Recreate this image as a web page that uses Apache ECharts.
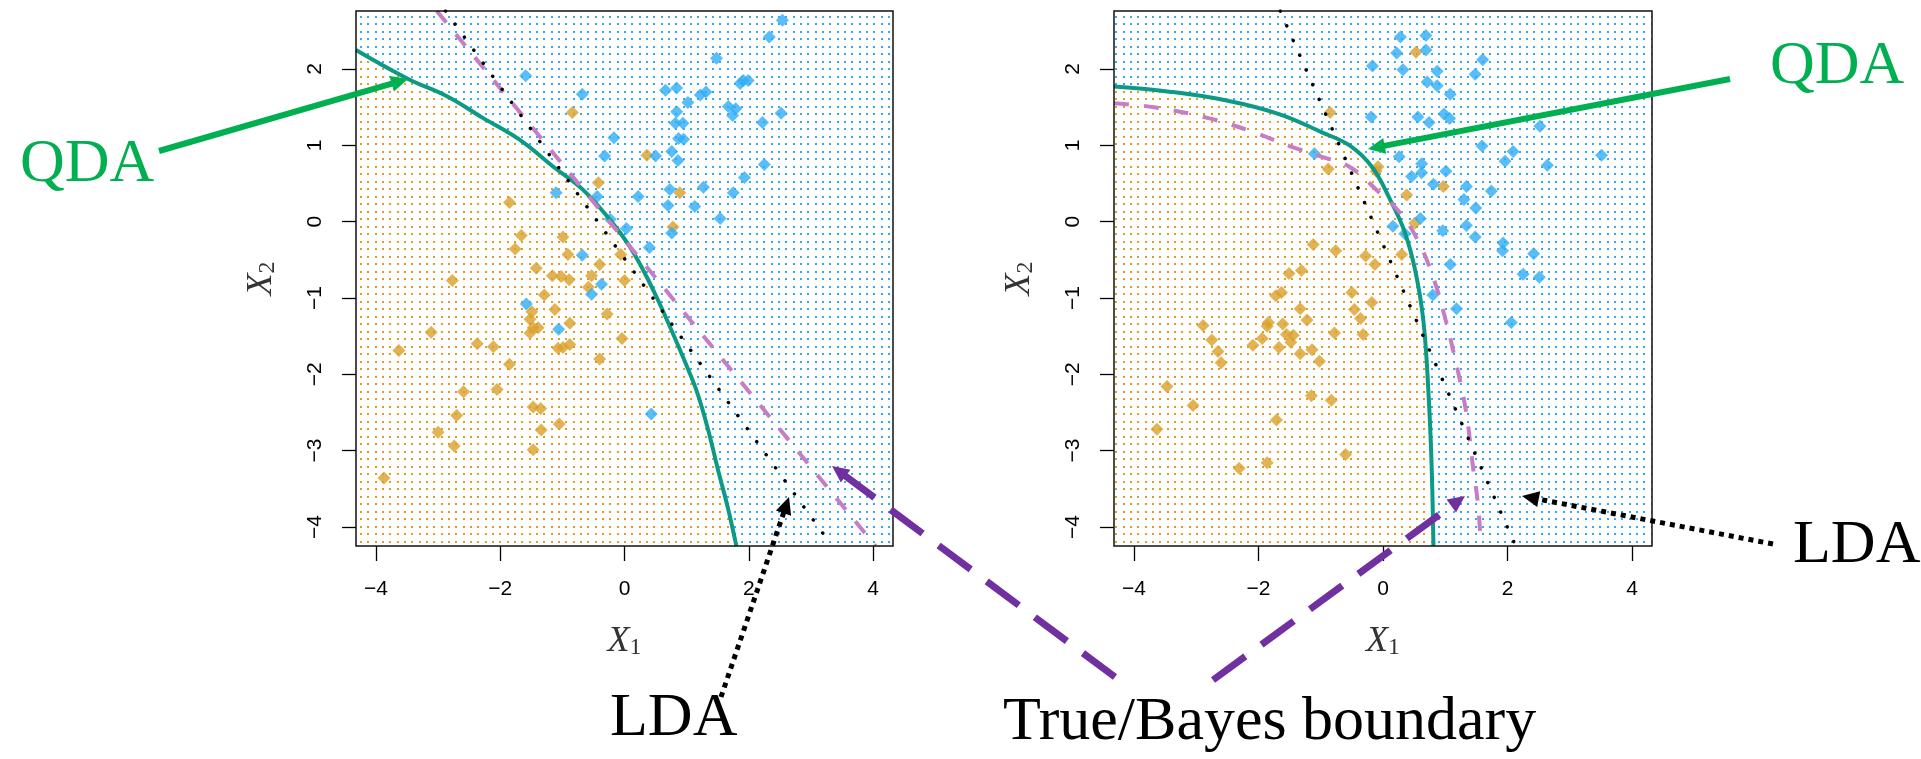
<!DOCTYPE html>
<html>
<head>
<meta charset="utf-8">
<script src="https://cdn.jsdelivr.net/npm/echarts@6/dist/echarts.min.js"></script>
<style>
  html, body { margin: 0; padding: 0; background: #fff; }
  #chart { width: 1921px; height: 759px; }
</style>
</head>
<body>
<div id="chart"></div>
<script>
// tick labels
const xTicks = [-4, -2, 0, 2, 4]
const yTicks = [-4, -3, -2, -1, 0, 1, 2]

// left panel: observations
const leftOrange = [[-0.84,1.43],[0.36,0.87],[-0.42,0.51],[0.89,0.38],[-1.85,0.25],[0.78,-0.07],[-1.66,-0.18],[-0.99,-0.20],[-1.76,-0.36],[-0.91,-0.43],[-0.06,-0.43],[-0.40,-0.56],[-1.42,-0.61],[-1.16,-0.71],[-1.02,-0.72],[-0.89,-0.76],[-0.53,-0.71],[-0.58,-0.86],[0.00,-0.77],[-2.77,-0.77],[-1.29,-0.96],[-1.12,-1.15],[-1.49,-1.18],[-1.52,-1.28],[-1.47,-1.39],[-1.39,-1.39],[-1.52,-1.46],[-0.88,-1.33],[-0.28,-1.21],[-3.11,-1.45],[-3.63,-1.69],[-2.37,-1.60],[-2.11,-1.64],[-0.04,-1.53],[-1.07,-1.66],[-0.99,-1.65],[-0.88,-1.61],[-1.85,-1.87],[-0.40,-1.80],[-2.59,-2.23],[-2.05,-2.20],[-1.47,-2.43],[-1.35,-2.45],[-2.70,-2.54],[-1.05,-2.65],[-3.00,-2.76],[-1.34,-2.73],[-2.74,-2.94],[-1.47,-2.99],[-3.87,-3.36]]
const leftBlue = [[2.54,2.64],[2.33,2.42],[1.48,2.14],[-1.59,1.91],[-0.68,1.67],[0.66,1.72],[0.84,1.75],[1.22,1.66],[1.31,1.70],[1.86,1.81],[1.91,1.85],[1.99,1.85],[1.02,1.56],[1.67,1.51],[1.79,1.48],[1.74,1.39],[0.84,1.44],[0.82,1.29],[0.94,1.29],[2.22,1.30],[2.52,1.42],[-0.17,1.10],[0.87,1.09],[0.95,1.08],[-0.32,0.86],[0.50,0.86],[0.76,0.92],[0.86,0.80],[2.25,0.75],[1.93,0.58],[0.73,0.42],[1.27,0.45],[1.75,0.38],[-1.10,0.38],[-0.44,0.33],[0.22,0.33],[0.70,0.21],[1.13,0.20],[1.54,0.04],[-0.23,0.03],[0.03,-0.09],[0.76,-0.15],[0.40,-0.34],[-0.68,-0.44],[-0.37,-0.82],[-0.53,-0.95],[-1.58,-1.08],[-1.06,-1.41],[0.43,-2.52]]

// left panel: decision boundaries
const leftQda = [[-4.32,2.25],[-3.48,1.87],[-2.85,1.64],[-2.28,1.36],[-1.70,1.08],[-1.13,0.71],[-0.67,0.42],[-0.21,0.00],[0.08,-0.32],[0.31,-0.65],[0.54,-1.03],[0.77,-1.45],[0.99,-1.87],[1.17,-2.24],[1.34,-2.71],[1.51,-3.27],[1.66,-3.74],[1.80,-4.25]]
const leftLda = [[-2.88,2.76],[3.34,-4.25]]
const leftBayes = [[-3.02,2.76],[4.04,-4.25]]

// right panel: observations
const rightOrange = [[0.53,2.22],[-0.85,1.43],[-0.88,0.69],[-0.08,0.72],[-0.11,0.66],[0.97,0.46],[0.38,0.35],[0.51,-0.02],[-1.12,-0.30],[-0.76,-0.38],[-0.28,-0.45],[-0.13,-0.56],[0.30,-0.43],[-1.51,-0.68],[-1.31,-0.64],[-1.72,-0.97],[-1.63,-0.93],[-0.50,-0.93],[-0.18,-1.06],[-1.33,-1.14],[-1.22,-1.29],[-0.46,-1.15],[-0.36,-1.27],[-2.89,-1.36],[-1.84,-1.32],[-1.86,-1.37],[-1.61,-1.34],[-0.78,-1.46],[-0.32,-1.48],[-1.55,-1.48],[-1.44,-1.49],[-1.48,-1.58],[-1.94,-1.53],[-2.09,-1.62],[-2.75,-1.55],[-1.67,-1.65],[-1.14,-1.68],[-2.65,-1.70],[-1.33,-1.73],[-1.02,-1.83],[-2.60,-1.85],[-3.47,-2.16],[-1.15,-2.28],[-0.83,-2.34],[-3.05,-2.41],[-1.71,-2.60],[-3.63,-2.72],[-0.60,-3.05],[-1.86,-3.16],[-2.31,-3.23]]
const rightBlue = [[0.28,2.42],[0.69,2.44],[0.22,2.21],[0.69,2.25],[-0.17,2.04],[0.32,1.99],[0.87,1.97],[1.60,2.12],[1.48,1.93],[0.71,1.83],[0.87,1.78],[1.08,1.67],[-0.19,1.37],[0.56,1.37],[0.74,1.30],[0.98,1.41],[1.07,1.35],[2.52,1.25],[-1.10,0.89],[0.26,0.85],[1.59,0.99],[2.09,0.92],[1.96,0.79],[2.64,0.74],[3.51,0.87],[0.62,0.76],[0.46,0.59],[0.62,0.64],[1.01,0.66],[0.81,0.49],[1.34,0.46],[1.74,0.40],[1.30,0.29],[1.49,0.18],[0.60,0.04],[0.16,-0.06],[0.35,-0.16],[0.96,-0.12],[1.34,-0.05],[1.48,-0.20],[1.93,-0.28],[1.92,-0.38],[2.42,-0.42],[1.08,-0.56],[2.25,-0.69],[2.51,-0.73],[0.80,-0.96],[1.18,-1.14],[2.06,-1.32]]

// right panel: decision boundaries
const rightQda = [[-4.32,1.77],[-3.40,1.70],[-2.53,1.59],[-1.67,1.41],[-0.98,1.17],[-0.52,0.99],[-0.17,0.71],[0.12,0.28],[0.35,-0.14],[0.52,-0.65],[0.65,-1.31],[0.73,-2.24],[0.78,-3.18],[0.81,-4.25]]
const rightLda = [[-1.65,2.76],[2.13,-4.25]]
const rightBayes = [[-4.32,1.55],[-3.68,1.50],[-2.82,1.36],[-2.07,1.17],[-1.50,0.99],[-0.98,0.85],[-0.52,0.71],[-0.06,0.38],[0.29,0.10],[0.58,-0.28],[0.81,-0.74],[0.98,-1.21],[1.15,-1.77],[1.33,-2.47],[1.44,-3.18],[1.53,-3.74],[1.57,-4.25]]

const ORANGE = '#dba02a'
const BLUE = '#2fadf5'
const TEAL = '#0a9a86'
const ORCHID = '#c77cc6'
const GREEN = '#00b050'
const PURPLE = '#7030a0'
const SERIF = '"Liberation Serif", "DejaVu Serif", serif'

const grids = [
  { left: 356, top: 11, width: 537, height: 535 },
  { left: 1114, top: 11, width: 538, height: 535 }
]

// dotted background tiles (the grid of classified points)
function dotTile(color) {
  const c = document.createElement('canvas')
  c.width = 22; c.height = 15
  const g = c.getContext('2d')
  g.fillStyle = '#fff'
  g.fillRect(0, 0, 22, 15)
  g.fillStyle = color
  for (const x of [1, 8, 15]) for (const y of [1, 8]) g.fillRect(x, y, 2, 2)
  return { image: c, repeat: 'repeat' }
}
const blueDots = dotTile('#36a9f2')
const orangeDots = dotTile('#e09e20')

const minus = v => String(v).replace('-', '\u2212')

const axisName = {
  color: '#333',
  rich: {
    x: { fontFamily: SERIF, fontStyle: 'italic', fontSize: 36, color: '#333' },
    s: { fontFamily: SERIF, fontSize: 24, color: '#333', verticalAlign: 'bottom', lineHeight: 16 }
  }
}

function xAxisFor(i) {
  return {
    type: 'value', gridIndex: i, min: -4.32, max: 4.32,
    axisLine: { show: false, onZero: false }, splitLine: { show: false },
    axisTick: { show: true, length: 15, customValues: xTicks, lineStyle: { color: '#000', width: 1.3 } },
    axisLabel: { customValues: xTicks, margin: 33, fontSize: 21, fontFamily: 'Liberation Sans', color: '#000', formatter: minus },
    name: '{x|X}{s|1}', nameLocation: 'middle', nameGap: 78, nameTextStyle: axisName
  }
}

function yAxisFor(i) {
  return {
    type: 'value', gridIndex: i, min: -4.25, max: 2.76,
    axisLine: { show: false, onZero: false }, splitLine: { show: false },
    axisTick: { show: true, length: 14, customValues: yTicks, lineStyle: { color: '#000', width: 1.3 } },
    axisLabel: { customValues: yTicks, margin: 30, rotate: 90, fontSize: 21, fontFamily: 'Liberation Sans', color: '#000', formatter: minus },
    name: '{x|X}{s|2}', nameLocation: 'middle', nameGap: 76, nameRotate: 90, nameTextStyle: axisName
  }
}

function panelSeries(i, orange, blue, qda, lda, bayes, bayesSmooth) {
  const ax = { xAxisIndex: i, yAxisIndex: i }
  return [
    { ...ax, type: 'line', data: qda, smooth: 0.4, symbol: 'none', silent: true, z: 1,
      lineStyle: { width: 0 }, areaStyle: { color: orangeDots, opacity: 1, origin: 'start' } },
    { ...ax, type: 'scatter', data: orange, symbol: 'diamond', symbolSize: 13, z: 2,
      itemStyle: { color: ORANGE } },
    { ...ax, type: 'scatter', data: blue, symbol: 'diamond', symbolSize: 13, z: 2,
      itemStyle: { color: BLUE } },
    { ...ax, type: 'line', data: qda, smooth: 0.4, symbol: 'none', z: 3,
      lineStyle: { color: TEAL, width: 4 } },
    { ...ax, type: 'line', data: bayes, smooth: bayesSmooth, symbol: 'none', z: 3,
      lineStyle: { color: ORCHID, width: 4, type: [15, 15] } },
    { ...ax, type: 'line', data: lda, symbol: 'none', z: 4,
      lineStyle: { color: '#000', width: 3.5, type: [0.1, 16], cap: 'round' } }
  ]
}

// annotation arrows (page pixels)
function arrow(tail, tip, color, width, dash) {
  const dx = tip[0] - tail[0], dy = tip[1] - tail[1]
  const len = Math.hypot(dx, dy)
  const ux = dx / len, uy = dy / len
  const hl = 17, hw = 8
  const bx = tip[0] - ux * hl, by = tip[1] - uy * hl
  return [
    { type: 'line', z: 10, silent: true,
      shape: { x1: tail[0], y1: tail[1], x2: bx + ux * 2, y2: by + uy * 2 },
      style: { stroke: color, lineWidth: width, lineDash: dash || null } },
    { type: 'polygon', z: 10, silent: true,
      shape: { points: [tip, [bx - uy * hw, by + ux * hw], [bx + uy * hw, by - ux * hw]] },
      style: { fill: color } }
  ]
}

function label(text, x, y, color) {
  return { type: 'text', z: 10, silent: true, x: x, y: y,
    style: { text: text, font: '62px ' + SERIF, fill: color, align: 'left', verticalAlign: 'middle',
      textAlign: 'left', textVerticalAlign: 'middle' } }
}

const boxes = grids.map(g => ({ type: 'rect', z: 5, silent: true,
  shape: { x: g.left, y: g.top, width: g.width, height: g.height },
  style: { fill: 'transparent', stroke: '#111', lineWidth: 1.5 } }))

const chart = echarts.init(document.getElementById('chart'))
chart.setOption({
  animation: false,
  grid: grids.map(g => ({ ...g, show: true, backgroundColor: blueDots, borderWidth: 0 })),
  xAxis: [xAxisFor(0), xAxisFor(1)],
  yAxis: [yAxisFor(0), yAxisFor(1)],
  series: [
    ...panelSeries(0, leftOrange, leftBlue, leftQda, leftLda, leftBayes, false),
    ...panelSeries(1, rightOrange, rightBlue, rightQda, rightLda, rightBayes, 0.4)
  ],
  graphic: [
    ...boxes,
    ...arrow([159, 151], [408, 79], GREEN, 6),
    ...arrow([1730, 79], [1368, 149], GREEN, 6),
    ...arrow([721, 697], [789, 497], '#000', 5, [5, 5]),
    ...arrow([1773, 544], [1522, 496], '#000', 5, [5, 5]),
    ...arrow([1115, 677], [832, 466], PURPLE, 7, [40, 20]),
    ...arrow([1213, 680], [1465, 496], PURPLE, 7, [40, 20]),
    label('QDA', 20, 165, GREEN),
    label('QDA', 1770, 67, GREEN),
    label('LDA', 610, 719, '#000'),
    label('LDA', 1793, 546, '#000'),
    label('True/Bayes boundary', 1003, 723, '#000')
  ]
})
</script>
</body>
</html>
